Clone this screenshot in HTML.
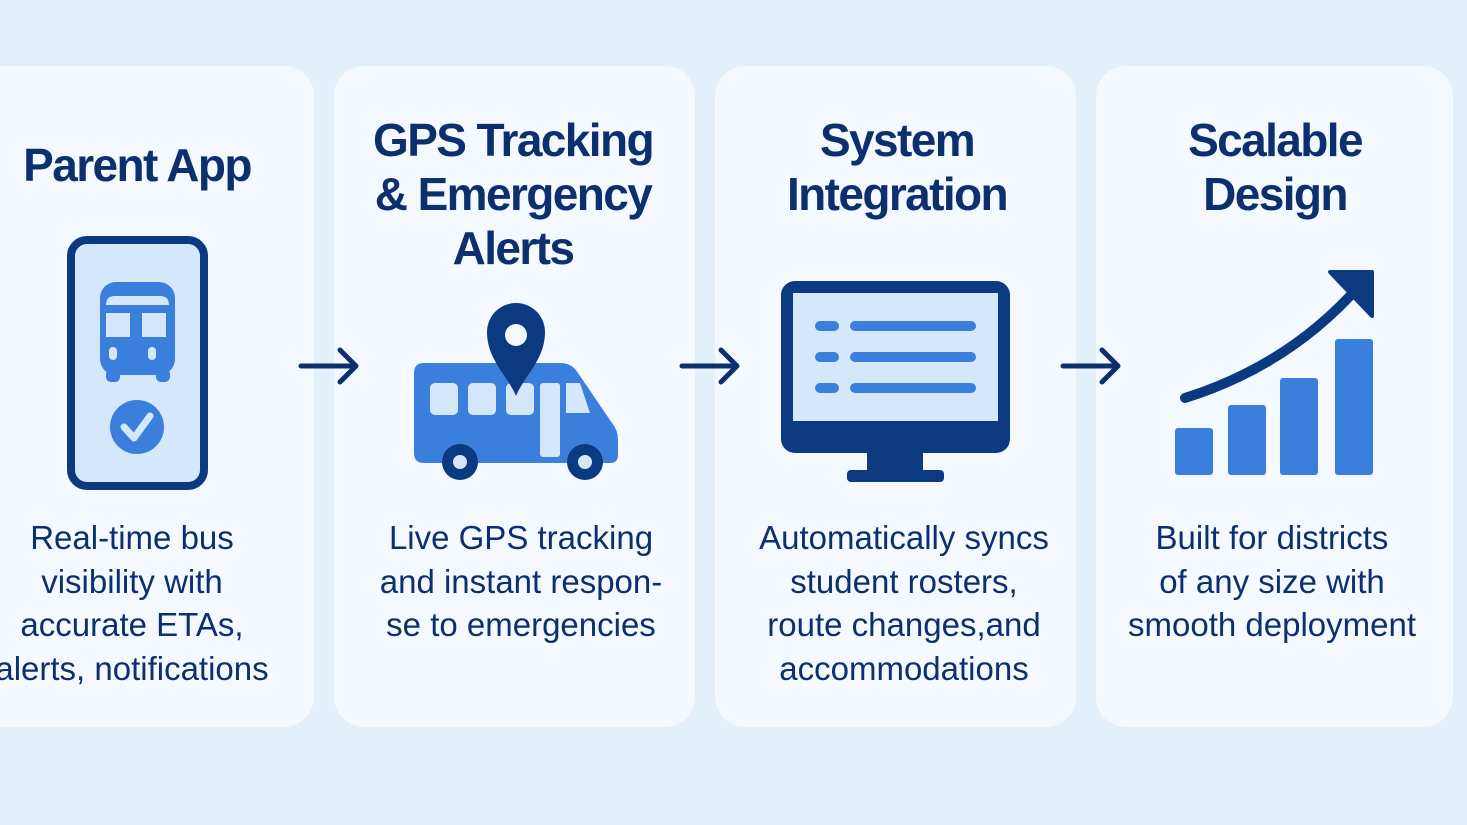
<!DOCTYPE html>
<html><head><meta charset="utf-8"><style>
body{margin:0;width:1467px;height:825px;background:#e2f0fc;position:relative;overflow:hidden;font-family:"Liberation Sans",sans-serif;color:#0d2f6e}
.card{position:absolute;top:66px;height:661px;background:#f3f9fe;border-radius:30px}
.t{position:absolute;text-align:center;font-weight:bold;font-size:46px;line-height:54px;width:400px;letter-spacing:-1.6px}
.b{position:absolute;text-align:center;font-size:33px;line-height:43.5px;width:400px;letter-spacing:0px}
svg{position:absolute;left:0;top:0}
</style></head><body>
<div class="card" style="left:-40px;width:354px"></div>
<div class="card" style="left:334px;width:361px"></div>
<div class="card" style="left:715px;width:361px"></div>
<div class="card" style="left:1096px;width:357px"></div>

<div class="t" style="left:-63px;top:138px">Parent App</div>
<div class="t" style="left:313px;top:113px">GPS Tracking<br>&amp; Emergency<br>Alerts</div>
<div class="t" style="left:697px;top:113px">System<br>Integration</div>
<div class="t" style="left:1075px;top:113px">Scalable<br>Design</div>

<div class="b" style="left:-68px;top:516px">Real-time bus<br>visibility with<br>accurate ETAs,<br>alerts, notifications</div>
<div class="b" style="left:321px;top:516px">Live GPS tracking<br>and instant respon-<br>se to emergencies</div>
<div class="b" style="left:704px;top:516px">Automatically syncs<br>student rosters,<br>route changes,and<br>accommodations</div>
<div class="b" style="left:1072px;top:516px">Built for districts<br>of any size with<br>smooth deployment</div>

<svg width="1467" height="825">
<g stroke="#0d2f6e" stroke-width="5" fill="none" stroke-linecap="round" stroke-linejoin="round">
<path d="M301 366H355M340 350L356 366L340 382"/>
<path d="M682 366H736M721 350L737 366L721 382"/>
<path d="M1063 366H1117M1102 350L1118 366L1102 382"/>
</g>
<rect x="71" y="240" width="133" height="246" rx="16" fill="#d5e8fb" stroke="#0b3a80" stroke-width="8"/>
<rect x="100" y="282" width="75" height="93" rx="16" fill="#3a7fdc"/>
<rect x="106" y="369" width="14" height="13" rx="5" fill="#3a7fdc"/><rect x="156" y="369" width="14" height="13" rx="5" fill="#3a7fdc"/>
<path d="M106 305Q106 296 115 296H160Q169 296 169 305Z" fill="#d5e8fb"/>
<rect x="106" y="313" width="24" height="24" fill="#d5e8fb"/><rect x="142" y="313" width="24" height="24" fill="#d5e8fb"/>
<rect x="109" y="347" width="8" height="13" rx="4" fill="#d5e8fb"/><rect x="148" y="347" width="8" height="13" rx="4" fill="#d5e8fb"/>
<circle cx="137" cy="427" r="27" fill="#3a7fdc"/>
<path d="M124 427L134 438L150 416" stroke="#d5e8fb" stroke-width="7" fill="none" stroke-linecap="round" stroke-linejoin="round"/>
<path d="M424 363H560Q572 363 578 373L612 423Q618 430 618 440V455Q618 463 610 463H424Q414 463 414 453V373Q414 363 424 363Z" fill="#3a7fdc"/>
<rect x="430" y="383" width="28" height="32" rx="5" fill="#d5e8fb"/>
<rect x="468" y="383" width="28" height="32" rx="5" fill="#d5e8fb"/>
<rect x="506" y="383" width="28" height="32" rx="5" fill="#d5e8fb"/>
<rect x="540" y="383" width="20" height="74" rx="3" fill="#d5e8fb"/>
<path d="M566 383H580L590 413H566Z" fill="#d5e8fb"/>
<circle cx="460" cy="462" r="18" fill="#0b3a80"/><circle cx="460" cy="462" r="7" fill="#d5e8fb"/>
<circle cx="585" cy="462" r="18" fill="#0b3a80"/><circle cx="585" cy="462" r="7" fill="#d5e8fb"/>
<path d="M516 396C508 376 487 360 487 332A29 29 0 0 1 545 332C545 360 524 376 516 396Z" fill="#0b3a80"/>
<circle cx="516" cy="335" r="11" fill="#f3f9fe"/>
<rect x="781" y="281" width="229" height="172" rx="14" fill="#0b3a80"/>
<rect x="793" y="293" width="205" height="128" fill="#d5e8fb"/>
<rect x="867" y="453" width="56" height="20" fill="#0b3a80"/>
<rect x="847" y="470" width="97" height="12" rx="4" fill="#0b3a80"/>
<g fill="#3a7fdc"><rect x="815" y="321" width="24" height="10" rx="5"/><rect x="850" y="321" width="126" height="10" rx="5"/>
<rect x="815" y="352" width="24" height="10" rx="5"/><rect x="850" y="352" width="126" height="10" rx="5"/>
<rect x="815" y="383" width="24" height="10" rx="5"/><rect x="850" y="383" width="126" height="10" rx="5"/></g>
<g fill="#3a7fdc"><rect x="1175" y="428" width="38" height="47" rx="3"/><rect x="1228" y="405" width="38" height="70" rx="3"/>
<rect x="1280" y="378" width="38" height="97" rx="3"/><rect x="1335" y="339" width="38" height="136" rx="3"/></g>
<path d="M1185 398Q1290 365 1360 285" stroke="#0b3a80" stroke-width="10" fill="none" stroke-linecap="round"/>
<path d="M1330 272H1372V316Z" fill="#0b3a80" stroke="#0b3a80" stroke-width="4" stroke-linejoin="round"/>
</svg>
</body></html>
